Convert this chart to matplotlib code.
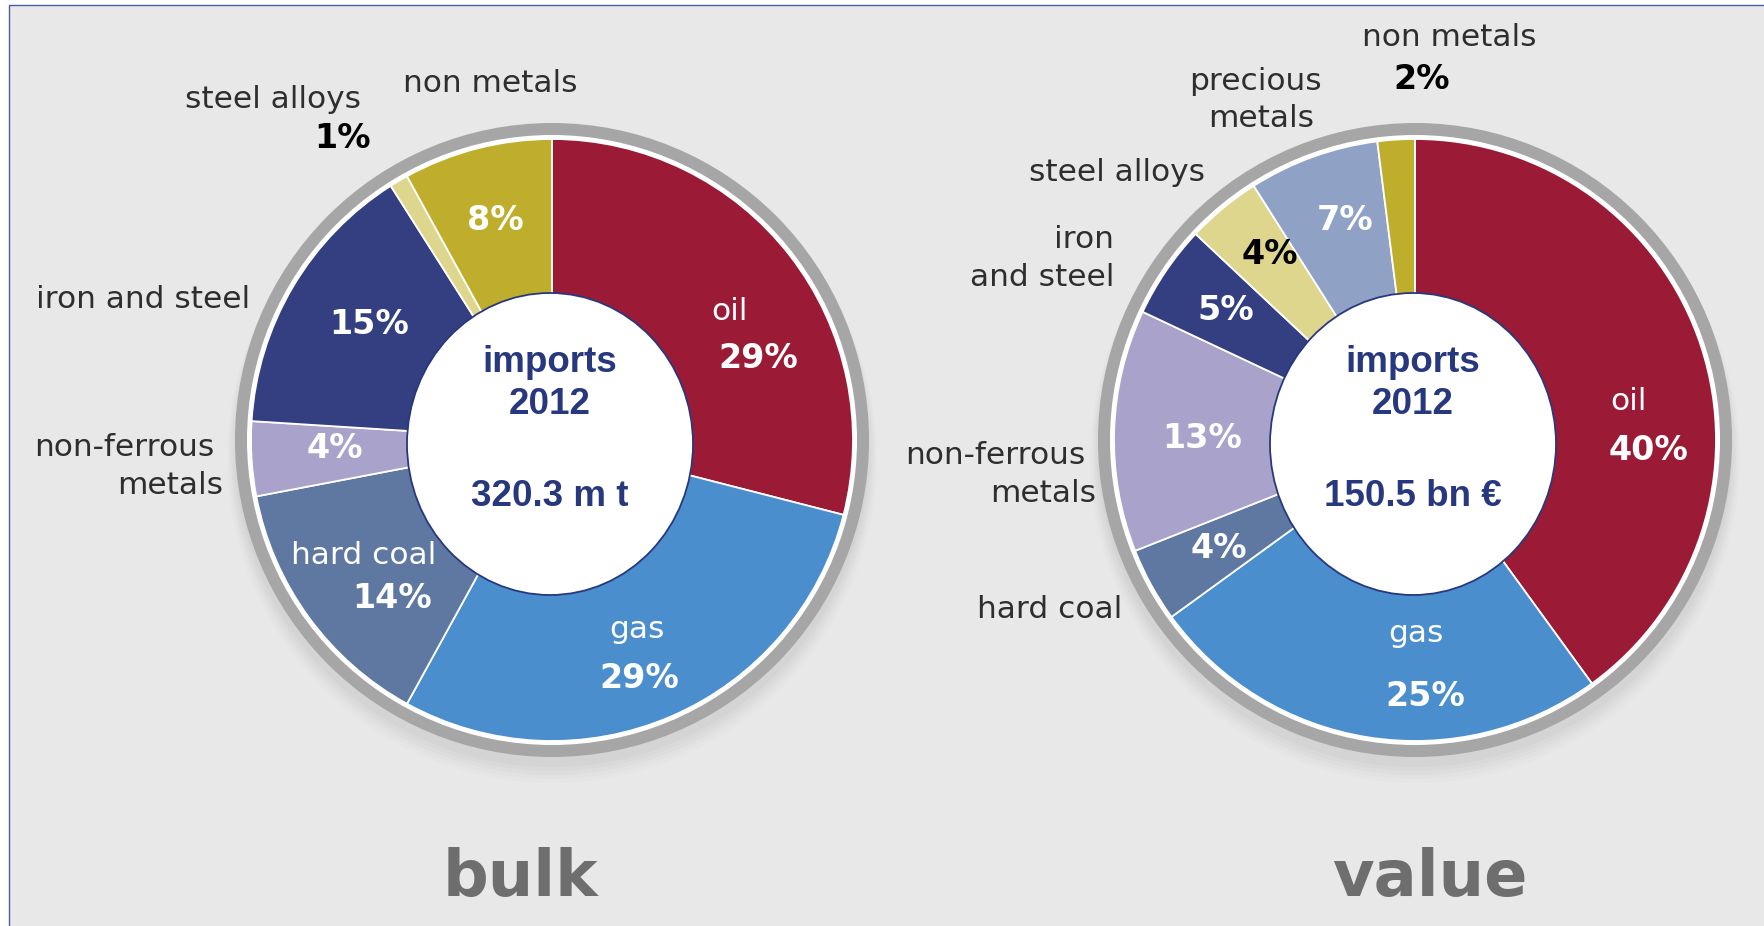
import matplotlib
matplotlib.use("Agg")
import matplotlib.pyplot as plt
from matplotlib.patches import Circle, Ellipse, Rectangle

# data: import shares 2012
bulk_labels = ['oil', 'gas', 'hard coal', 'non-ferrous metals', 'iron and steel',
               'steel alloys', 'non metals']
bulk_share = [29, 29, 14, 4, 15, 1, 8]
bulk_total = '320.3 m t'

value_labels = ['oil', 'gas', 'hard coal', 'non-ferrous metals', 'iron and steel',
                'steel alloys', 'precious metals', 'non metals']
value_share = [40, 25, 4, 13, 5, 4, 7, 2]
value_total = '150.5 bn €'

year = 2012

colors = {
    'oil': '#9b1b37',
    'gas': '#4b8ecd',
    'hard coal': '#5e78a2',
    'non-ferrous metals': '#a9a3cb',
    'iron and steel': '#333f80',
    'steel alloys': '#ddd68c',
    'precious metals': '#8fa2c5',
    'non metals': '#bfae2c',
}

W, H = 1765, 926
BG = '#e8e8e8'
NAVY = '#27387e'
TXT = '#2e2e2e'

fig = plt.figure(figsize=(W / 100, H / 100), dpi=100, facecolor='white')
ax = fig.add_axes([0, 0, 1, 1])

# background panel with thin border
ax.add_patch(Rectangle((9, 5), W, H, facecolor=BG, edgecolor='#4b5ba0', lw=1, zorder=0))


def draw_pie(shares, labels, cx, cy, total):
    # soft shadow under the ring
    for k, a in enumerate([0.05, 0.05, 0.04, 0.03, 0.02]):
        ax.add_patch(Circle((cx, cy + 10 + 2 * k), 317 + 2 * k, color='#808080', alpha=a, lw=0, zorder=1))
    ax.add_patch(Circle((cx, cy), 317, color='#a6a6a6', lw=0, zorder=2))
    ax.add_patch(Circle((cx, cy), 305, color='white', lw=0, zorder=2))
    # y axis is inverted: start at -90 and go counterclockwise in data = clockwise on screen
    wedges, _ = ax.pie(shares, colors=[colors[l] for l in labels], startangle=-90,
                       counterclock=True, center=(cx, cy), radius=301,
                       wedgeprops=dict(edgecolor='white', linewidth=1.3))
    for w in wedges:
        w.set_zorder(3)
    ax.add_patch(Ellipse((cx - 2, cy + 4), 286, 302, facecolor='white', edgecolor=NAVY, lw=1.3, zorder=4))
    for s, y in [('imports', cy - 77), (str(year), cy - 35), (total, cy + 56)]:
        ax.text(cx - 2, y, s, ha='center', va='center', fontsize=26.5, fontweight='bold',
                family='Liberation Sans', color=NAVY, zorder=5)


def label(x, y, s, ha='center', color=TXT, bold=False, size=22.5):
    ax.text(x, y, s, ha=ha, va='center', fontsize=size, color=color,
            fontweight='bold' if bold else 'normal', family='DejaVu Sans', zorder=6)


draw_pie(bulk_share, bulk_labels, 552, 440, bulk_total)
draw_pie(value_share, value_labels, 1415, 440, value_total)

# bulk: outside labels
label(273, 99, 'steel alloys')
label(343, 138, f'{bulk_share[5]}%', color='black', bold=True, size=24)
label(490, 83, 'non metals')
label(250, 299, 'iron and steel', ha='right')
label(214, 447, 'non-ferrous', ha='right')
label(223, 485, 'metals', ha='right')

# bulk: inside labels
label(495, 221, f'{bulk_share[6]}%', color='white', bold=True, size=24)
label(729, 311, 'oil', color='white')
label(758, 358, f'{bulk_share[0]}%', color='white', bold=True, size=24)
label(369, 325, f'{bulk_share[4]}%', color='white', bold=True, size=24)
label(335, 448, f'{bulk_share[3]}%', color='white', bold=True, size=24)
label(364, 555, 'hard coal', color='white')
label(392, 598, f'{bulk_share[2]}%', color='white', bold=True, size=24)
label(637, 630, 'gas', color='white')
label(639, 679, f'{bulk_share[1]}%', color='white', bold=True, size=24)

# value: outside labels
label(1449, 37, 'non metals')
label(1422, 79, f'{value_share[7]}%', color='black', bold=True, size=24)
label(1255, 81, 'precious')
label(1261, 118, 'metals')
label(1117, 172, 'steel alloys')
label(1114, 239, 'iron', ha='right')
label(1114, 277, 'and steel', ha='right')
label(1085, 456, 'non-ferrous', ha='right')
label(1096, 494, 'metals', ha='right')
label(1122, 609, 'hard coal', ha='right')

# value: inside labels
label(1345, 221, f'{value_share[6]}%', color='white', bold=True, size=24)
label(1270, 254, f'{value_share[5]}%', color='black', bold=True, size=24)
label(1226, 311, f'{value_share[4]}%', color='white', bold=True, size=24)
label(1202, 438, f'{value_share[3]}%', color='white', bold=True, size=24)
label(1219, 548, f'{value_share[2]}%', color='white', bold=True, size=24)
label(1416, 634, 'gas', color='white')
label(1425, 696, f'{value_share[1]}%', color='white', bold=True, size=24)
label(1628, 401, 'oil', color='white')
label(1648, 450, f'{value_share[0]}%', color='white', bold=True, size=24)

# panel titles
ax.text(520, 878, 'bulk', ha='center', va='center', fontsize=46, fontweight='bold',
        family='DejaVu Sans', color='#6e6e6e')
ax.text(1430, 878, 'value', ha='center', va='center', fontsize=46, fontweight='bold',
        family='DejaVu Sans', color='#6e6e6e')

ax.set_xlim(0, W)
ax.set_ylim(H, 0)
ax.set_aspect('equal')
ax.axis('off')

plt.savefig('out.png', dpi=100, facecolor='white')
